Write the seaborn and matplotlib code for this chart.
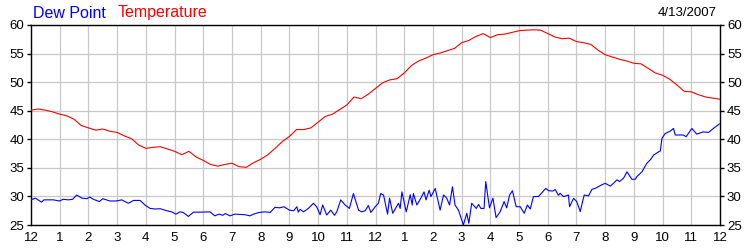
import numpy as np
import pandas as pd
import matplotlib
matplotlib.use("Agg")
import matplotlib.pyplot as plt
import seaborn as sns

# ---- data (hours since midnight, °F) ----
temp_hours = [i * 0.25 for i in range(97)]
temp_values = [
    45.1, 45.3, 45.1, 44.8, 44.4, 44.1, 43.5, 42.4, 42.0, 41.6, 41.8, 41.4,
    41.2, 40.6, 40.1, 39.0, 38.4, 38.6, 38.7, 38.3, 37.9, 37.3, 37.9, 36.9,
    36.3, 35.6, 35.3, 35.6, 35.8, 35.2, 35.1, 35.9, 36.5, 37.3, 38.4, 39.6,
    40.5, 41.7, 41.7, 42.0, 43.0, 44.0, 44.4, 45.2, 46.0, 47.4, 47.1, 47.9,
    48.9, 49.9, 50.4, 50.6, 51.6, 52.9, 53.7, 54.2, 54.8, 55.1, 55.5, 55.9,
    56.9, 57.3, 58.0, 58.5, 57.8, 58.3, 58.4, 58.7, 59.0, 59.1, 59.15, 59.1,
    58.5, 57.9, 57.6, 57.7, 57.1, 56.9, 56.6, 55.6, 54.8, 54.4, 54.0, 53.7,
    53.3, 53.2, 52.4, 51.6, 51.2, 50.5, 49.5, 48.4, 48.3, 47.8, 47.4, 47.2,
    47.0,
]

dew_hours = [
    0.00, 0.15, 0.37, 0.45, 0.78, 0.99, 1.12, 1.30, 1.45, 1.59, 1.77, 1.94,
    2.05, 2.17, 2.38, 2.50, 2.75, 2.96, 3.16, 3.39, 3.57, 3.80, 3.97, 4.15,
    4.32, 4.50, 4.73, 4.90, 5.05, 5.19, 5.30, 5.48, 5.66, 5.89, 6.24, 6.40,
    6.55, 6.68, 6.77, 6.93, 7.10, 7.45, 7.63, 7.75, 7.95, 8.15, 8.33, 8.50,
    8.65, 8.81, 9.00, 9.15, 9.26, 9.31, 9.37, 9.49, 9.66, 9.84, 9.95, 10.07,
    10.16, 10.30, 10.44, 10.57, 10.65, 10.79, 10.94, 11.09, 11.23, 11.41, 11.52, 11.64,
    11.75, 11.84, 11.99, 12.10, 12.18, 12.28, 12.42, 12.49, 12.60, 12.80, 12.86, 12.92,
    13.07, 13.21, 13.28, 13.32, 13.44, 13.58, 13.69, 13.76, 13.87, 13.93, 14.08, 14.25,
    14.37, 14.48, 14.58, 14.68, 14.77, 14.89, 15.06, 15.18, 15.25, 15.35, 15.51, 15.59,
    15.67, 15.78, 15.84, 15.97, 16.09, 16.20, 16.34, 16.48, 16.57, 16.67, 16.77, 16.90,
    17.04, 17.18, 17.29, 17.39, 17.50, 17.68, 17.77, 17.93, 18.03, 18.18, 18.26, 18.37,
    18.43, 18.55, 18.72, 18.76, 18.90, 19.01, 19.13, 19.27, 19.42, 19.54, 19.65, 19.83,
    20.00, 20.18, 20.29, 20.41, 20.50, 20.64, 20.76, 20.93, 21.05, 21.10, 21.28, 21.45,
    21.57, 21.69, 21.86, 21.92, 21.98, 22.09, 22.27, 22.38, 22.44, 22.72, 22.82, 23.02,
    23.19, 23.42, 23.60, 23.77, 23.98,
]
dew_values = [
    29.4, 29.7, 29.0, 29.4, 29.4, 29.2, 29.5, 29.4, 29.5, 30.25, 29.7, 29.6,
    29.9, 29.5, 29.1, 29.6, 29.2, 29.2, 29.4, 28.8, 29.3, 29.3, 28.5, 27.9,
    27.8, 27.85, 27.5, 27.3, 26.9, 27.3, 27.2, 26.5, 27.25, 27.25, 27.3, 26.6,
    26.9, 26.7, 27.0, 26.6, 26.9, 26.8, 26.6, 26.9, 27.2, 27.3, 27.2, 28.1,
    28.0, 28.2, 27.6, 27.5, 28.2, 27.25, 27.75, 27.3, 27.9, 28.8, 28.2, 26.8,
    28.5, 26.75, 27.6, 26.7, 27.3, 29.4, 28.5, 27.9, 30.5, 27.6, 27.3, 27.5,
    28.4, 27.2, 28.2, 28.8, 30.5, 30.25, 26.9, 29.7, 27.05, 28.8, 27.9, 30.8,
    27.3, 30.3, 28.5, 30.5, 28.5, 29.7, 30.8, 29.4, 31.1, 29.96, 31.4, 27.6,
    30.25, 29.7, 28.5, 31.7, 28.5, 27.6, 25.0, 27.05, 25.3, 28.8, 27.9, 28.6,
    27.9, 27.9, 32.6, 28.0, 29.7, 26.3, 27.3, 29.1, 28.0, 30.25, 31.0, 28.2,
    28.2, 27.05, 28.5, 27.8, 29.96, 30.0, 30.5, 31.4, 31.0, 30.95, 31.2, 30.2,
    30.55, 29.96, 30.25, 28.2, 29.67, 29.1, 27.35, 30.25, 30.1, 31.25, 31.4, 31.9,
    32.3, 31.8, 32.3, 32.9, 32.6, 33.2, 34.3, 33.0, 33.0, 33.45, 34.3, 35.8,
    36.4, 37.25, 37.8, 37.95, 40.2, 41.0, 41.45, 41.9, 40.75, 40.75, 40.45, 41.9,
    40.9, 41.3, 41.2, 41.9, 42.7,
]

x_ticks = list(range(25))
x_labels = ["12"] + [str(i) for i in range(1, 12)] + ["12"] + [str(i) for i in range(1, 12)] + ["12"]
y_ticks = [25, 30, 35, 40, 45, 50, 55, 60]
title_dew = "Dew Point"
title_temp = "Temperature"
date_text = "4/13/2007"

# ---- plotting ----
sns.set_style("white")
plt.rcParams["font.family"] = ["Liberation Sans", "DejaVu Sans"]

fig = plt.figure(figsize=(7.5, 2.5), dpi=100)
ax = fig.add_axes([31 / 750, 25 / 250, 689 / 750, 200 / 250])

temp_df = pd.DataFrame({"hour": temp_hours, "value": temp_values})
dew_df = pd.DataFrame({"hour": dew_hours, "value": dew_values})

sns.lineplot(data=temp_df, x="hour", y="value", ax=ax, color="#ff0000",
             linewidth=0.8, zorder=3)
sns.lineplot(data=dew_df, x="hour", y="value", ax=ax, color="#0000ff",
             linewidth=0.8, zorder=3)

ax.set_xlim(0, 24)
ax.set_ylim(25, 60)
ax.set_xticks(x_ticks)
ax.set_xticklabels(x_labels)
ax.set_yticks(y_ticks)
ax.set_xlabel("")
ax.set_ylabel("")
ax.grid(True, color="#c8c8c8", linewidth=0.9, zorder=0)
ax.set_axisbelow(True)

for s in ax.spines.values():
    s.set_color("black")
    s.set_linewidth(1.0)
    s.set_visible(True)

ax.tick_params(axis="x", direction="in", length=4, width=1, colors="black",
               labelsize=9.5, pad=5)
ax.tick_params(axis="y", direction="out", length=3, width=1, colors="black",
               labelsize=9.5, pad=2, left=True, right=True,
               labelleft=True, labelright=True)

fig.text(33 / 750, 1 - 13 / 250, title_dew, color="#0000ff", fontsize=11.5,
         ha="left", va="center")
fig.text(118 / 750, 1 - 13 / 250, title_temp, color="#ff0000", fontsize=11.5,
         ha="left", va="center")
fig.text(717 / 750, 1 - 13 / 250, date_text, color="black", fontsize=9.5,
         ha="right", va="center")

fig.savefig("out.png", dpi=100)
